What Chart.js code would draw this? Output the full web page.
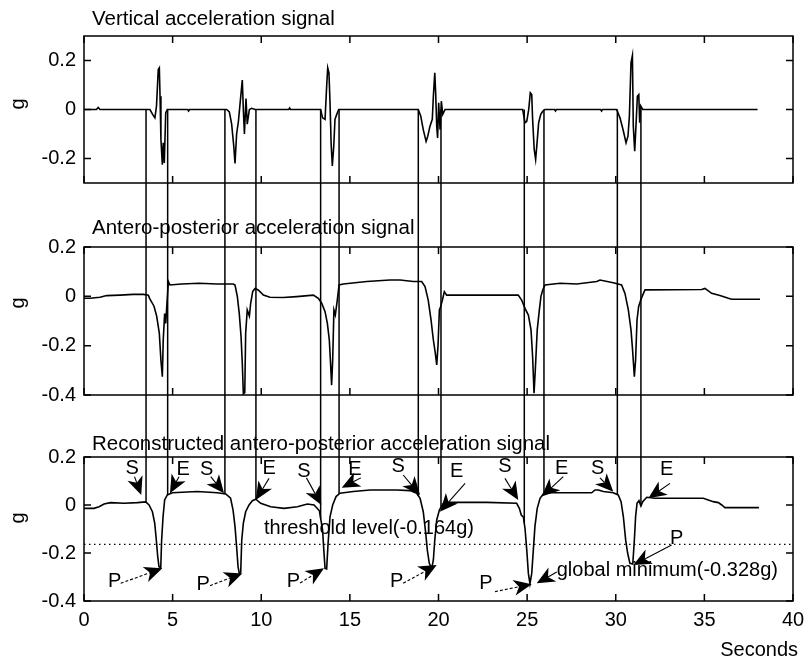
<!DOCTYPE html>
<html>
<head>
<meta charset="utf-8">
<script src="https://cdn.jsdelivr.net/npm/chart.js@4.4.1/dist/chart.umd.min.js"></script>
<style>
  html, body { margin: 0; padding: 0; background: #fff; }
  #wrap { position: relative; width: 804px; height: 662px; overflow: hidden; background: #fff; }
  #wrap canvas { position: absolute; left: 0; }
</style>
</head>
<body>
<div id="wrap">
  <canvas id="cTop" width="804" height="200" style="top:0px"></canvas>
  <canvas id="cMid" width="804" height="220" style="top:200px"></canvas>
  <canvas id="cBot" width="804" height="242" style="top:420px"></canvas>
</div>
<script>
// ---- vertical acceleration (g) vs time (s)
const vertTime = [0, 0.7, 0.8, 0.9, 3.72, 3.87, 4.00, 4.09, 4.19, 4.25, 4.29, 4.34, 4.42, 4.47, 4.53, 4.61, 4.70,
  5.85, 5.9, 5.95, 8.05, 8.20, 8.33, 8.45, 8.52, 8.61, 8.71, 8.80, 8.93, 8.99, 9.05, 9.14, 9.21, 9.33, 9.46, 9.65,
  11.55, 11.6, 11.65, 13.35, 13.46, 13.60, 13.69, 13.75, 13.82, 13.88, 13.94, 14.01, 14.09, 14.16, 14.26, 14.37,
  18.86, 19.00, 19.14, 19.30, 19.39, 19.52, 19.65, 19.71, 19.79, 19.84, 19.90, 19.95, 20.01, 20.09, 20.16, 20.24, 20.37,
  24.75, 24.88, 24.98, 25.09, 25.18, 25.26, 25.31, 25.40, 25.48, 25.56, 25.65, 25.77, 25.88, 26.00,
  26.55, 26.6, 26.65, 29.15, 29.2, 29.25, 30.05, 30.24, 30.43, 30.58, 30.69, 30.77, 30.86, 30.94, 30.99, 31.07, 31.14,
  31.22, 31.30, 31.35, 31.41, 31.52, 38.0];
const vertAcc = [0, 0, 0.008, 0, 0, -0.02, -0.034, 0.014, 0.163, 0.17, 0.054, -0.122, -0.225, -0.136, -0.218, -0.014, 0,
  0, -0.006, 0, 0, -0.01, -0.06, -0.15, -0.22, -0.10, -0.05, 0.02, 0.12, 0.0, -0.10, 0.045, -0.06, 0, 0.005, 0,
  0, 0.006, 0, 0, -0.034, -0.04, 0.095, 0.17, 0.15, 0.027, -0.136, -0.23, -0.15, -0.04, -0.02, 0,
  0, -0.027, -0.082, -0.13, -0.11, -0.068, -0.04, 0.054, 0.15, 0.068, -0.068, -0.116, 0.027, -0.082, 0.034, -0.02, 0,
  0, -0.054, -0.048, 0, 0.068, 0.061, -0.04, -0.163, -0.204, -0.136, -0.054, -0.02, -0.007, 0,
  0, -0.006, 0, 0, -0.006, 0, 0, -0.034, -0.088, -0.136, -0.109, -0.027, 0.19, 0.22, -0.068, -0.17, -0.068,
  0.054, 0.061, -0.054, 0.014, 0, 0];

// ---- antero-posterior acceleration (g) vs time (s)
const apTime = [0, 0.34, 0.9, 1.28, 2.03, 2.78, 3.35, 3.63, 3.70, 3.95, 4.10, 4.25, 4.34, 4.42, 4.47, 4.55, 4.61, 4.67,
  4.76, 4.85, 5.5, 6.5, 7.5, 8.42, 8.52, 8.65, 8.76, 8.86, 8.93, 8.99, 9.07, 9.12, 9.21, 9.33, 9.40, 9.52, 9.65, 9.83,
  10.12, 10.49, 11.24, 12.0, 12.94, 13.22, 13.41, 13.60, 13.73, 13.84, 13.92, 13.97, 14.03, 14.10, 14.18, 14.29, 14.39,
  14.63, 15.95, 17.26, 17.83, 18.58, 19.05, 19.24, 19.42, 19.58, 19.71, 19.82, 19.90, 19.97, 20.05, 20.12, 20.22, 20.33,
  20.46, 24.50, 24.69, 24.88, 25.07, 25.22, 25.31, 25.39, 25.46, 25.57, 25.69, 25.78, 25.88, 26.01, 26.86, 27.80, 28.93,
  29.11, 29.86, 30.33, 30.52, 30.71, 30.86, 30.95, 31.05, 31.12, 31.20, 31.29, 31.41, 31.52, 31.65, 34.85, 35.03, 35.41,
  35.88, 36.35, 36.54, 38.14];
const apAcc = [-0.008, -0.008, -0.004, 0.003, 0.005, 0.008, 0.008, 0.005, -0.008, -0.04, -0.08, -0.15, -0.26, -0.326,
  -0.177, -0.07, -0.11, -0.04, 0.06, 0.046, 0.05, 0.053, 0.05, 0.05, 0.046, 0, -0.07, -0.163, -0.27, -0.395, -0.39,
  -0.15, -0.055, -0.08, -0.03, 0.02, 0.032, 0.026, 0.005, -0.004, -0.005, -0.001, 0.005, -0.008, -0.028, -0.062, -0.11,
  -0.177, -0.285, -0.36, -0.258, -0.055, -0.075, -0.015, 0.046, 0.05, 0.06, 0.066, 0.066, 0.06, 0.06, 0.04, -0.015,
  -0.096, -0.177, -0.23, -0.278, -0.204, -0.055, -0.042, -0.015, 0.019, 0.005, 0.005, -0.015, -0.049, -0.076, -0.136,
  -0.245, -0.393, -0.30, -0.136, -0.055, 0, 0.026, 0.046, 0.053, 0.05, 0.06, 0.066, 0.055, 0.046, 0.012, -0.055,
  -0.136, -0.218, -0.326, -0.258, -0.096, -0.042, -0.015, 0.005, 0.026, 0.028, 0.032, 0.012, 0.003, -0.008, -0.012,
  -0.012];

// ---- reconstructed antero-posterior acceleration (g) vs time (s)
const recTime = [0, 0.56, 0.85, 1.13, 1.50, 2.26, 3.01, 3.48, 3.67, 3.86, 3.99, 4.08, 4.16, 4.23, 4.33, 4.38, 4.46,
  4.55, 4.70, 4.98, 6.39, 7.52, 8.00, 8.27, 8.41, 8.52, 8.61, 8.69, 8.76, 8.84, 8.90, 8.99, 9.12, 9.31, 9.50, 9.69,
  9.97, 10.53, 11.28, 12.04, 12.60, 12.98, 13.28, 13.46, 13.54, 13.60, 13.69, 13.77, 13.88, 14.03, 14.22, 14.44, 15.19,
  16.14, 17.64, 18.39, 18.77, 18.96, 19.14, 19.28, 19.37, 19.48, 19.62, 19.71, 19.79, 19.90, 20.05, 20.24, 20.65,
  22.72, 24.41, 24.56, 24.67, 24.79, 24.88, 24.98, 25.07, 25.16, 25.26, 25.35, 25.44, 25.57, 25.73, 25.91, 26.29,
  28.64, 28.83, 29.02, 29.30, 29.86, 30.14, 30.30, 30.43, 30.56, 30.67, 30.80, 30.96, 31.05, 31.12, 31.20, 31.31,
  31.42, 31.52, 31.75, 32.21, 34.94, 35.22, 35.50, 35.79, 35.98, 36.16, 38.08];
const recAcc = [-0.014, -0.014, -0.007, 0.004, 0.01, 0.007, 0.01, 0.013, 0, -0.028, -0.076, -0.146, -0.215, -0.257,
  -0.262, -0.146, -0.049, 0.021, 0.042, 0.051, 0.056, 0.051, 0.046, 0.028, -0.021, -0.09, -0.174, -0.257, -0.285,
  -0.282, -0.146, -0.076, -0.028, 0, 0.018, 0.024, 0.007, -0.007, -0.014, -0.007, 0.004, 0, -0.024, -0.104, -0.2,
  -0.264, -0.266, -0.16, -0.049, 0, 0.035, 0.049, 0.056, 0.0625, 0.0625, 0.06, 0.049, 0.028, -0.028, -0.118, -0.188,
  -0.243, -0.264, -0.229, -0.146, -0.0625, -0.021, 0.004, 0.011, 0.011, 0.007, -0.014, -0.042, -0.051, -0.097, -0.188,
  -0.285, -0.328, -0.285, -0.188, -0.09, -0.014, 0.028, 0.046, 0.051, 0.051, 0.0625, 0.0625, 0.056, 0.051, 0.042,
  0.014, -0.049, -0.146, -0.2, -0.243, -0.246, -0.146, -0.049, 0.007, 0.018, -0.004, 0.014, 0.032, 0.028, 0.028,
  0.021, 0.014, 0.01, 0, -0.011, -0.011];

// start (S) / end (E) instants of each event, in seconds
const eventTimes = [3.50, 4.72, 7.95, 9.70, 13.35, 14.39, 18.86, 20.14, 24.84, 25.95, 30.09, 31.42];

// axis ticks
const xTicks = [0, 5, 10, 15, 20, 25, 30, 35, 40];
const yTicksVert = [-0.2, 0, 0.2];
const yTicksAP = [-0.4, -0.2, 0, 0.2];

// annotation callouts on the reconstructed signal: text, label point, arrow start, arrow tip (data units)
const callouts = [
  { text: 'S', at: [2.72, 0.153], from: [2.85, 0.118], to: [3.23, 0.042] },
  { text: 'E', at: [5.60, 0.146], from: [5.36, 0.118], to: [4.85, 0.049] },
  { text: 'S', at: [6.92, 0.146], from: [7.15, 0.118], to: [7.90, 0.049] },
  { text: 'E', at: [10.44, 0.153], from: [10.44, 0.111], to: [9.69, 0.021] },
  { text: 'S', at: [12.41, 0.139], from: [12.55, 0.113], to: [13.39, 0.0] },
  { text: 'E', at: [15.29, 0.150], from: [15.62, 0.113], to: [14.54, 0.072] },
  { text: 'S', at: [17.73, 0.160], from: [18.01, 0.125], to: [18.96, 0.042] },
  { text: 'E', at: [21.03, 0.139], from: [21.50, 0.090], to: [20.08, -0.028] },
  { text: 'S', at: [23.75, 0.160], from: [23.75, 0.111], to: [24.50, 0.021] },
  { text: 'E', at: [26.95, 0.153], from: [27.04, 0.118], to: [25.82, 0.035] },
  { text: 'S', at: [28.98, 0.153], from: [29.11, 0.113], to: [29.86, 0.055] },
  { text: 'E', at: [32.87, 0.146], from: [33.06, 0.090], to: [31.84, 0.028] },
  { text: 'P', at: [1.73, -0.320], from: [2.07, -0.326], to: [4.42, -0.264], dashed: true },
  { text: 'P', at: [6.73, -0.333], from: [7.11, -0.336], to: [8.93, -0.285], dashed: true },
  { text: 'P', at: [11.81, -0.320], from: [12.19, -0.325], to: [13.54, -0.264], dashed: true },
  { text: 'P', at: [17.64, -0.320], from: [18.01, -0.326], to: [19.90, -0.250], dashed: true },
  { text: 'P', at: [22.68, -0.326], from: [23.19, -0.361], to: [25.26, -0.330], dashed: true },
  { text: 'P', at: [33.43, -0.139], from: [33.15, -0.167], to: [30.99, -0.250] }
];

const FONT = '"Liberation Sans", Arial, Helvetica, sans-serif';
const globalMin = Math.min(...recAcc);
const threshold = globalMin / 2;

function interp(ts, vs, t) {
  for (let i = 1; i < ts.length; i++) {
    if (t <= ts[i]) {
      const f = (t - ts[i - 1]) / (ts[i] - ts[i - 1]);
      return vs[i - 1] + f * (vs[i] - vs[i - 1]);
    }
  }
  return vs[vs.length - 1];
}

function fmtTick(v) { return v === 0 ? '0' : String(Math.round(v * 10) / 10); }

// filled, slightly swept-back arrowhead with a thin shaft
function drawArrow(ctx, x1, y1, x2, y2, dashed) {
  const ang = Math.atan2(y2 - y1, x2 - x1);
  const L = 18, W = 8;
  const c = Math.cos(ang), s = Math.sin(ang);
  const bx = x2 - L * c, by = y2 - L * s;
  const nx = x2 - L * 0.72 * c, ny = y2 - L * 0.72 * s;
  ctx.lineWidth = 1.1;
  ctx.setLineDash(dashed ? [3, 2] : []);
  ctx.beginPath();
  ctx.moveTo(x1, y1);
  ctx.lineTo(nx, ny);
  ctx.stroke();
  ctx.setLineDash([]);
  ctx.beginPath();
  ctx.moveTo(x2, y2);
  ctx.lineTo(bx - W * s, by + W * c);
  ctx.lineTo(nx, ny);
  ctx.lineTo(bx + W * s, by - W * c);
  ctx.closePath();
  ctx.fill();
}

function makeChart(id, o) {
  const decor = {
    id: 'decor',
    afterDraw(chart) {
      const { ctx, chartArea: a, scales: { x, y } } = chart;
      ctx.save();
      ctx.strokeStyle = '#000';
      ctx.fillStyle = '#000';
      // axes box with inward ticks
      ctx.lineWidth = 1.5;
      ctx.strokeRect(a.left, a.top, a.right - a.left, a.bottom - a.top);
      ctx.beginPath();
      xTicks.forEach(v => {
        const px = x.getPixelForValue(v);
        ctx.moveTo(px, a.bottom); ctx.lineTo(px, a.bottom - 7);
        ctx.moveTo(px, a.top); ctx.lineTo(px, a.top + 7);
      });
      o.yTicks.forEach(v => {
        const py = y.getPixelForValue(v);
        ctx.moveTo(a.left, py); ctx.lineTo(a.left + 7, py);
        ctx.moveTo(a.right, py); ctx.lineTo(a.right - 7, py);
      });
      ctx.stroke();
      // subplot title
      ctx.font = '20.5px ' + FONT;
      ctx.textAlign = 'left';
      ctx.textBaseline = 'alphabetic';
      ctx.fillText(o.title, 92, o.titleBaseline);
      // y label
      ctx.save();
      ctx.translate(18, o.gY);
      ctx.rotate(-Math.PI / 2);
      ctx.font = '20px ' + FONT;
      ctx.textAlign = 'center';
      ctx.textBaseline = 'middle';
      ctx.fillText('g', 0, 0);
      ctx.restore();
      if (o.extra) o.extra(chart);
      // event markers running through the three panels
      ctx.lineWidth = 1.5;
      ctx.beginPath();
      eventTimes.forEach(t => {
        const px = x.getPixelForValue(t);
        let y0 = 0, y1 = chart.height;
        if (o.span === 'top') y0 = y.getPixelForValue(0);
        if (o.span === 'bottom') y1 = y.getPixelForValue(interp(recTime, recAcc, t));
        ctx.moveTo(px, y0); ctx.lineTo(px, y1);
      });
      ctx.stroke();
      ctx.restore();
    }
  };
  const datasets = o.series.map(s => ({
    data: s.t.map((t, i) => ({ x: t, y: s.v[i] })),
    borderColor: '#000',
    borderWidth: s.width || 1.6,
    borderDash: s.dash || [],
    pointRadius: 0,
    fill: false,
    tension: 0
  }));
  return new Chart(document.getElementById(id), {
    type: 'line',
    data: { datasets },
    options: {
      responsive: false,
      animation: false,
      events: [],
      layout: { padding: { left: 0, right: 11, top: o.padTop, bottom: o.padBottom } },
      plugins: { legend: { display: false }, tooltip: { enabled: false }, title: { display: false } },
      scales: {
        x: {
          type: 'linear', min: 0, max: 40,
          afterBuildTicks: s => { s.ticks = xTicks.map(v => ({ value: v })); },
          afterFit: s => { s.height = o.xAxisHeight; s.paddingLeft = 0; s.paddingRight = 0; },
          grid: { display: false, drawTicks: false }, border: { display: false },
          ticks: { display: o.showX, autoSkip: false, maxRotation: 0, padding: 7, color: '#000',
                   font: { family: FONT, size: 20 }, callback: v => String(v) }
        },
        y: {
          type: 'linear', min: o.yMin, max: o.yMax,
          afterBuildTicks: s => { s.ticks = o.yTicks.map(v => ({ value: v })); },
          afterFit: s => { s.width = 84; s.paddingTop = 0; s.paddingBottom = 0; },
          grid: { display: false, drawTicks: false }, border: { display: false },
          ticks: { padding: 8, color: '#000', font: { family: FONT, size: 20 }, callback: v => fmtTick(v) }
        }
      }
    },
    plugins: [decor]
  });
}

// top panel: vertical acceleration
makeChart('cTop', {
  series: [{ t: vertTime, v: vertAcc }],
  yMin: -0.3, yMax: 0.3, yTicks: yTicksVert,
  padTop: 36, padBottom: 17, xAxisHeight: 0, showX: false,
  title: 'Vertical acceleration signal', titleBaseline: 25, gY: 104, span: 'top'
});

// middle panel: antero-posterior acceleration
makeChart('cMid', {
  series: [{ t: apTime, v: apAcc }],
  yMin: -0.4, yMax: 0.2, yTicks: yTicksAP,
  padTop: 47, padBottom: 25, xAxisHeight: 0, showX: false,
  title: 'Antero-posterior acceleration signal', titleBaseline: 34, gY: 103, span: 'middle'
});

// bottom panel: reconstructed signal with threshold and S/E/P callouts
makeChart('cBot', {
  series: [
    { t: recTime, v: recAcc },
    { t: [0, 40], v: [threshold, threshold], width: 1.3, dash: [1.5, 3.5] }
  ],
  yMin: -0.4, yMax: 0.2, yTicks: yTicksAP,
  padTop: 37, padBottom: 0, xAxisHeight: 61, showX: true,
  title: 'Reconstructed antero-posterior acceleration signal', titleBaseline: 30, gY: 98, span: 'bottom',
  extra(chart) {
    const { ctx, scales: { x, y } } = chart;
    ctx.font = '20px ' + FONT;
    ctx.textBaseline = 'middle';
    ctx.textAlign = 'left';
    ctx.fillText('threshold level(' + threshold.toFixed(3) + 'g)', x.getPixelForValue(10.15), y.getPixelForValue(-0.096));
    const gx = x.getPixelForValue(26.67), gy = y.getPixelForValue(-0.271);
    ctx.fillText('global minimum(' + globalMin.toFixed(3) + 'g)', gx, gy);
    drawArrow(ctx, gx, gy + 2, x.getPixelForValue(25.54), y.getPixelForValue(-0.326), false);
    ctx.textAlign = 'center';
    callouts.forEach(c => {
      ctx.font = '20px ' + FONT;
      ctx.fillText(c.text, x.getPixelForValue(c.at[0]), y.getPixelForValue(c.at[1]));
      drawArrow(ctx, x.getPixelForValue(c.from[0]), y.getPixelForValue(c.from[1]),
                x.getPixelForValue(c.to[0]), y.getPixelForValue(c.to[1]), c.dashed);
    });
    // axis caption
    ctx.font = '20px ' + FONT;
    ctx.textAlign = 'right';
    ctx.textBaseline = 'alphabetic';
    ctx.fillText('Seconds', 798, 236);
  }
});
</script>
</body>
</html>
